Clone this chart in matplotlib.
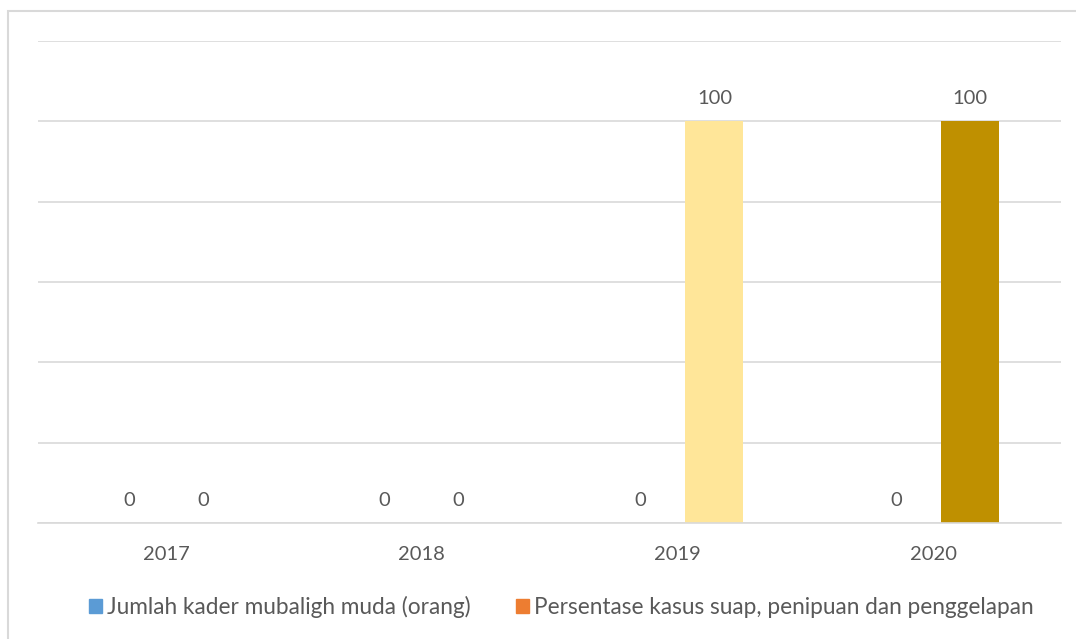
import matplotlib.pyplot as plt
from matplotlib.patches import Rectangle
import numpy as np

years = ["2017", "2018", "2019", "2020"]
kader_mubaligh = [0, 0, 0, 0]
persentase_kasus = [0, 0, 100, 100]
legend_labels = ["Jumlah kader mubaligh muda (orang)",
                 "Persentase kasus suap, penipuan dan penggelapan"]
series_colors = ["#5B9BD5", "#ED7D31"]
point_colors = ["#ED7D31", "#ED7D31", "#FFE699", "#BF9000"]

plt.rcParams['font.family'] = ['Lato', 'DejaVu Sans']
text_color = "#595959"
grid_color = "#D9D9D9"

fig = plt.figure(figsize=(10.76, 6.39), dpi=100)
W, H = 1076, 639

# chart frame (right and bottom edges run off the canvas)
fig.patches.append(Rectangle((8 / W, -0.2), 1.2, 1.2 - 11 / H, transform=fig.transFigure,
                             fill=False, edgecolor="#D9D9D9", linewidth=1.5))

ax = fig.add_axes([38 / W, 1 - 523 / H, (1061 - 38) / W, (523 - 41) / H])
x = np.arange(len(years))
width = 0.227
offset = 0.145

ax.bar(x - offset, kader_mubaligh, width, color=series_colors[0])
ax.bar(x + offset, persentase_kasus, width, color=point_colors)

for xi, v in zip(x - offset, kader_mubaligh):
    ax.text(xi, v + 3.5, f"{v}", ha="center", va="bottom", fontsize=14.5, color=text_color)
for xi, v in zip(x + offset, persentase_kasus):
    ax.text(xi, v + 3.5, f"{v}", ha="center", va="bottom", fontsize=14.5, color=text_color)

ax.set_xlim(-0.5, len(years) - 0.5)
ax.set_ylim(0, 120)
ax.set_yticks(np.arange(0, 121, 20))
ax.yaxis.grid(True, color=grid_color, linewidth=1.2)
ax.set_axisbelow(True)
ax.tick_params(axis="y", left=False, labelleft=False)
ax.tick_params(axis="x", bottom=False, labelsize=14.5, labelcolor=text_color, pad=13)
ax.set_xticks(x)
ax.set_xticklabels(years)
for s in ["top", "right", "left"]:
    ax.spines[s].set_visible(False)
ax.spines["bottom"].set_color(grid_color)
ax.spines["bottom"].set_linewidth(1.2)

handles = [Rectangle((0, 0), 1, 1, color=c) for c in series_colors]
fig.legend(handles, legend_labels, loc="center", bbox_to_anchor=(561 / W, 1 - 607 / H),
           ncol=2, frameon=False, fontsize=16.3, labelcolor=text_color,
           handlelength=0.6, handleheight=0.6, handletextpad=0.2, columnspacing=2.0)

fig.savefig("out.png", dpi=100)
